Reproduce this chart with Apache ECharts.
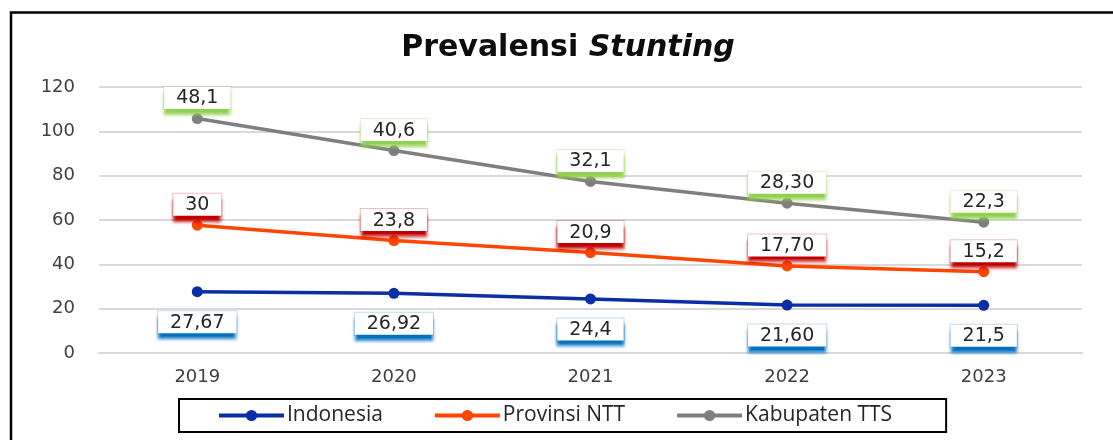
<!DOCTYPE html>
<html>
<head>
<meta charset="utf-8">
<script src="https://cdn.jsdelivr.net/npm/echarts@6/dist/echarts.min.js"></script>
<style>html,body{margin:0;padding:0;background:#fff;}#c{width:1113px;height:440px;}</style>
</head>
<body>
<div id="c"></div>
<script>
var years = ['2019', '2020', '2021', '2022', '2023'];
var indonesia = [27.67, 26.92, 24.4, 21.60, 21.5];
var ntt = [30, 23.8, 20.9, 17.70, 15.2];
var tts = [48.1, 40.6, 32.1, 28.30, 22.3];
var indonesiaLabels = ['27,67', '26,92', '24,4', '21,60', '21,5'];
var nttLabels = ['30', '23,8', '20,9', '17,70', '15,2'];
var ttsLabels = ['48,1', '40,6', '32,1', '28,30', '22,3'];
var yTicks = [0, 20, 40, 60, 80, 100, 120];

var chart = echarts.init(document.getElementById('c'), null, {renderer: 'canvas'});

function boxLabel(texts, pos, dist, barColor, sideColor) {
  return {
    show: true,
    position: pos,
    distance: dist,
    formatter: function (p) { return texts[p.dataIndex]; },
    fontFamily: 'DejaVu Sans',
    fontSize: 19,
    color: '#262626',
    backgroundColor: '#ffffff',
    borderColor: sideColor,
    borderWidth: 1,
    padding: [2, 12, 1, 12],
    shadowColor: barColor,
    shadowOffsetY: 6,
    shadowBlur: 3
  };
}

chart.setOption({
  animation: false,
  title: {
    text: '{a|Prevalensi }{b|Stunting}',
    left: 563,
    textAlign: 'center',
    top: 28,
    textStyle: {
      rich: {
        a: {fontFamily: 'DejaVu Sans', fontWeight: 'bold', fontSize: 30, color: '#0d0d0d'},
        b: {fontFamily: 'DejaVu Sans', fontWeight: 'bold', fontStyle: 'italic', fontSize: 30, color: '#0d0d0d'}
      }
    }
  },
  grid: {left: 99, right: 31, top: 87, bottom: 87, containLabel: false},
  legend: {
    left: 179,
    top: 399,
    itemWidth: 65,
    itemHeight: 14,
    itemGap: 50,
    padding: [6, 54, 6, 38],
    borderColor: '#000',
    borderWidth: 2,
    lineStyle: {width: 4},
    textStyle: {fontFamily: 'Open Sans', fontSize: 21, color: '#262626', padding: [0, 0, 0, -2]},
    data: ['Indonesia', 'Provinsi NTT', 'Kabupaten TTS']
  },
  xAxis: {
    type: 'category',
    data: years,
    boundaryGap: true,
    axisLine: {show: true, lineStyle: {color: '#d9d9d9', width: 2}},
    axisTick: {show: false},
    axisLabel: {fontFamily: 'DejaVu Sans', fontSize: 18, color: '#404040', margin: 15}
  },
  yAxis: {
    type: 'value',
    min: yTicks[0],
    max: yTicks[yTicks.length - 1],
    interval: 20,
    axisLine: {show: false},
    axisTick: {show: false},
    splitLine: {lineStyle: {color: '#d9d9d9', width: 2}},
    axisLabel: {fontFamily: 'DejaVu Sans', fontSize: 18, color: '#404040', margin: 24}
  },
  series: [
    {
      name: 'Indonesia', type: 'line', stack: 'total', data: indonesia,
      symbol: 'circle', symbolSize: 11,
      lineStyle: {color: '#0a2ea6', width: 3.5},
      itemStyle: {color: '#0a2ea6'},
      label: boxLabel(indonesiaLabels, 'bottom', 14, '#0070c0', 'rgba(0,112,192,0.25)'),
      z: 3
    },
    {
      name: 'Provinsi NTT', type: 'line', stack: 'total', data: ntt,
      symbol: 'circle', symbolSize: 11,
      lineStyle: {color: '#ff4500', width: 3.5},
      itemStyle: {color: '#ff4500'},
      label: boxLabel(nttLabels, 'top', 4, '#c00000', 'rgba(192,0,0,0.25)'),
      z: 3
    },
    {
      name: 'Kabupaten TTS', type: 'line', stack: 'total', data: tts,
      symbol: 'circle', symbolSize: 11,
      lineStyle: {color: '#7f7f7f', width: 3.5},
      itemStyle: {color: '#7f7f7f'},
      label: boxLabel(ttsLabels, 'top', 4, '#92d050', 'rgba(146,208,80,0.3)'),
      z: 3
    }
  ],
  graphic: [
    {
      type: 'rect',
      shape: {x: 11, y: 12.5, width: 1130, height: 460},
      style: {fill: 'none', stroke: '#000', lineWidth: 2.5},
      silent: true
    }
  ]
});
</script>
</body>
</html>
